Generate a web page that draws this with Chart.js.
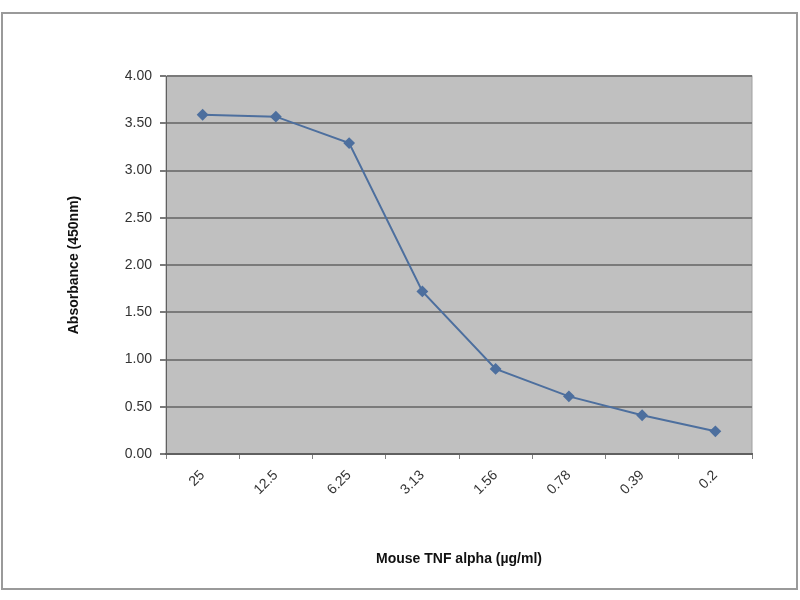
<!DOCTYPE html>
<html>
<head>
<meta charset="utf-8">
<script src="https://cdn.jsdelivr.net/npm/chart.js@4.4.4/dist/chart.umd.min.js"></script>
<style>
    html, body { margin: 0; padding: 0; background: #fff; }
    #wrap { width: 800px; height: 600px; }
</style>
</head>
<body>
<div id="wrap"><canvas id="chart" width="800" height="600"></canvas></div>
<script>
// Concentrations (µg/ml) and absorbance readings
const concentrations = ['25', '12.5', '6.25', '3.13', '1.56', '0.78', '0.39', '0.2'];
const absorbance = [3.59, 3.57, 3.29, 1.72, 0.90, 0.61, 0.41, 0.24];
const yTicks = [0, 0.5, 1, 1.5, 2, 2.5, 3, 3.5, 4];

// Grey plot area and outer frame, Excel style
const excelFrame = {
    id: 'excelFrame',
    beforeDraw(chart) {
        const { ctx, chartArea: a } = chart;
        ctx.save();
        ctx.strokeStyle = '#9a9a9a';
        ctx.lineWidth = 2;
        ctx.strokeRect(2, 13, 795, 576);
        ctx.fillStyle = '#c0c0c0';
        ctx.fillRect(a.left, a.top, a.right - a.left, a.bottom - a.top);
        ctx.strokeStyle = '#a0a0a0';
        ctx.lineWidth = 1;
        ctx.strokeRect(a.left, a.top, a.right - a.left, a.bottom - a.top);
        ctx.restore();
    }
};

const ctx = document.getElementById('chart').getContext('2d');
new Chart(ctx, {
    type: 'line',
    data: {
        labels: concentrations,
        datasets: [{
            data: absorbance,
            borderColor: '#4d6f9e',
            borderWidth: 2,
            pointStyle: 'rectRot',
            pointRadius: 4.5,
            pointBackgroundColor: '#4d6f9e',
            pointBorderColor: '#4d6f9e',
            tension: 0
        }]
    },
    options: {
        responsive: false,
        animation: false,
        layout: { padding: { top: 76, right: 48, bottom: 28, left: 62 } },
        plugins: {
            legend: { display: false },
            tooltip: { enabled: false }
        },
        scales: {
            x: {
                offset: true,
                grid: { display: true, drawOnChartArea: false, offset: true, tickLength: 5, color: '#808080' },
                border: { color: '#606060', width: 2 },
                ticks: {
                    color: '#333',
                    font: { family: 'Liberation Sans', size: 14 },
                    maxRotation: 45, minRotation: 45, padding: 8
                },
                title: {
                    display: true,
                    text: 'Mouse TNF alpha (µg/ml)',
                    color: '#111',
                    font: { family: 'Liberation Sans', size: 14, weight: 'bold' },
                    padding: { top: 18 }
                },
                afterFit(scale) { scale.height = 118; }
            },
            y: {
                min: 0,
                max: 4,
                afterBuildTicks(scale) { scale.ticks = yTicks.map(v => ({ value: v })); },
                grid: { color: '#7a7a7a', lineWidth: 2, tickLength: 6 },
                border: { color: '#606060', width: 1 },
                ticks: {
                    color: '#333',
                    font: { family: 'Liberation Sans', size: 14 },
                    padding: 8,
                    callback: v => v.toFixed(2)
                },
                title: {
                    display: true,
                    text: 'Absorbance (450nm)',
                    color: '#111',
                    font: { family: 'Liberation Sans', size: 14, weight: 'bold' },
                    padding: { bottom: 4 }
                },
                afterFit(scale) { scale.width = 104; }
            }
        }
    },
    plugins: [excelFrame]
});
</script>
</body>
</html>
